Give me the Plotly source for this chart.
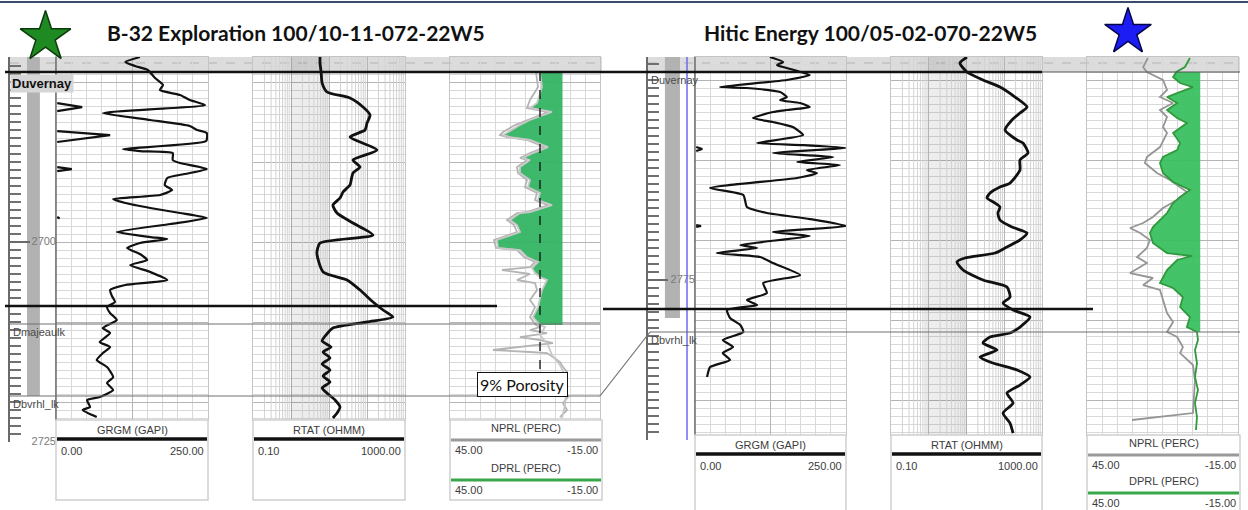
import plotly.graph_objects as go

W, H = 1248, 510

# ======================= LEFT WELL : B-32 Exploration =======================
gr_depth_L = [2676.88, 2677.50, 2678.00, 2678.50, 2679.50, 2680.38, 2681.00, 2681.63, 2682.25, 2682.88,
              2683.88, 2684.75, 2685.50, 2686.00, 2686.38, 2687.38, 2688.38, 2688.63, 2688.88, 2689.75,
              2690.13, 2690.88, 2691.50, 2692.00, 2692.88, 2693.50, 2694.13, 2694.63, 2695.13, 2695.75,
              2696.38, 2697.00, 2697.75, 2698.75, 2699.38, 2699.63, 2700.13, 2700.75, 2701.50, 2702.25,
              2702.88, 2703.75, 2704.75, 2705.38, 2706.00, 2706.75, 2707.50, 2708.13, 2708.88, 2709.75,
              2710.75, 2711.38, 2712.50, 2713.13, 2713.88, 2714.75, 2715.63, 2716.88, 2717.63, 2718.50,
              2719.38, 2719.75, 2720.63, 2721.00, 2721.88]
gr_L = [138, 114, 130, 151, 163, 176, 171, 204, 220, 245,
        77, 155, 220, 232, 248, 247, 110, 138, 192, 192,
        204, 248, 212, 183, 179, 191, 171, 94, 114, 155,
        204, 248, 188, 100, 155, 183, 138, 117, 138, 150,
        122, 155, 183, 114, 89, 92, 97, 84, 89, 100,
        77, 89, 72, 89, 77, 67, 84, 94, 84, 94,
        72, 51, 56, 44, 67]
gr2_depth_L = [2682.63, 2683.13, 2683.63, None, 2686.13, 2686.63, 2687.50, None,
               2690.63, 2690.88, 2691.13, None, 2696.88, 2697.06]
gr2_L = [2, 43, 2, None, 2, 89, 2, None, 2, 26, 2, None, 2, 6]

res_depth_L = [2676.88, 2677.63, 2678.75, 2680.13, 2681.25, 2682.00, 2683.13, 2684.13, 2685.13, 2686.00,
               2686.88, 2688.50, 2689.75, 2690.63, 2691.38, 2692.88, 2693.25, 2693.75, 2694.50, 2695.38,
               2696.38, 2697.63, 2699.13, 2700.13, 2701.38, 2703.75, 2704.75, 2706.00, 2707.50, 2708.50,
               2709.38, 2710.00, 2710.75, 2711.63, 2712.38, 2713.13, 2713.75, 2714.50, 2715.25, 2716.00,
               2716.75, 2717.50, 2718.25, 2719.00, 2719.75, 2720.63, 2721.38, 2722.00]
res_L = [5.8, 5.8, 6.2, 6.6, 8.9, 35.7, 78.5, 120, 100, 88.5,
         35.7, 183, 42.8, 65.5, 42.8, 35.7, 29.8, 23.4, 19.5, 12.7,
         16.2, 42.8, 144, 5.8, 4.8, 7.0, 29.8, 65.5, 144, 264,
         483, 100, 12.7, 8.3, 6.6, 11.3, 7.0, 10.6, 6.6, 10.6,
         7.0, 10.6, 6.6, 9.4, 14.4, 19.5, 16.3, 12.7]

dprl_depth_L = [2678.75, 2680.63, 2682.63, 2683.25, 2683.75, 2684.38, 2684.75, 2685.38, 2686.25, 2686.63,
                2686.88, 2687.25, 2688.13, 2688.88, 2689.50, 2689.75, 2690.63, 2691.38, 2692.25, 2693.13,
                2693.88, 2694.75, 2695.38, 2696.25, 2696.38, 2697.25, 2697.88, 2698.75, 2699.75, 2700.75,
                2701.00, 2701.88, 2702.50, 2703.25, 2703.88, 2704.38, 2704.75, 2706.00, 2708.13, 2709.38,
                2710.38, 2710.63, 2711.63, 2712.88, 2714.13, 2715.38, 2716.63, 2718.50, 2720.38, 2722.00]
dprl_L = [9.0, 8.2, 10.2, 13.0, 4.2, 9.8, 13.0, 17.0, 21.8, 23.8,
          21.0, 13.0, 5.8, 11.8, 15.8, 13.0, 17.0, 17.0, 13.0, 13.8,
          9.0, 9.8, 4.2, 13.0, 17.0, 21.0, 18.2, 17.0, 26.2, 25.8,
          17.0, 14.2, 9.8, 12.2, 11.0, 9.0, 6.2, 8.2, 9.8, 11.8,
          9.0, 7.0, 9.0, 5.8, 4.2, 1.0, -1.0, -1.4, -1.0, 0.2]

nprl_depth_L = [2678.75, 2680.63, 2682.25, 2683.25, 2683.75, 2684.38, 2684.75, 2685.38, 2686.25, 2686.63,
                2686.88, 2687.25, 2688.13, 2688.88, 2689.50, 2689.75, 2690.63, 2691.38, 2692.25, 2693.13,
                2693.88, 2694.75, 2695.38, 2696.25, 2696.38, 2697.25, 2697.88, 2698.75, 2699.75, 2700.75,
                2701.00, 2701.88, 2702.50, 2703.13, 2703.50, 2704.00, 2704.75, 2705.13, 2706.00, 2707.25,
                2708.13, 2709.38, 2710.38, 2710.63, 2711.00, 2711.38, 2711.88, 2712.25, 2712.63, 2713.13,
                2713.50, 2713.75, 2713.88, 2714.38, 2715.00, 2715.63, 2716.25, 2717.63, 2719.38, 2720.13,
                2721.00, 2721.88]
nprl_L = [10.6, 9.8, 13.0, 14.2, 5.8, 11.0, 14.2, 19.0, 23.8, 25.0,
          22.2, 14.2, 7.0, 13.0, 17.0, 14.2, 18.2, 17.8, 14.2, 15.0,
          10.2, 11.0, 5.8, 14.2, 18.2, 22.2, 19.4, 18.2, 27.4, 26.6,
          18.2, 15.4, 11.0, 13.0, 24.2, 13.0, 18.2, 11.0, 10.2, 13.0,
          11.0, 13.0, 10.6, 9.0, 13.0, 6.2, 17.0, 9.0, 3.8, 17.0,
          27.8, 13.0, 6.2, 3.8, 1.0, -0.2, -1.8, -0.2, -2.2, -0.2,
          -1.8, 1.0]

tops_L = {"Duvernay": 2678.75, "Dmajeaulk": 2710.25, "Dbvrhl_lk": 2719.25}
marker_line_L = 2708.0
fill_base_L = 2710.38
depth_labels_L = [2700, 2725]
porosity_cutoff = 9
cutoff_base_L = 2716.4

# ======================= RIGHT WELL : Hitic Energy =======================
gr_depth_R = [2747.13, 2747.75, 2748.13, 2748.50, 2749.38, 2750.00, 2750.88, 2751.00, 2751.50, 2752.13,
              2752.50, 2752.88, 2753.38, 2753.75, 2754.00, 2754.75, 2755.25, 2755.88, 2756.88, 2757.88,
              2758.13, 2758.50, 2759.13, 2759.63, 2760.25, 2760.63, 2761.25, 2761.63, 2762.25, 2763.50,
              2764.38, 2765.88, 2766.63, 2767.38, 2768.25, 2769.00, 2769.50, 2770.63, 2771.00, 2771.63,
              2772.13, 2772.88, 2774.38, 2775.38, 2776.63, 2777.50, 2778.13, 2778.75, 2779.75, 2780.63,
              2781.50, 2782.50, 2783.38, 2784.13, 2785.00, 2785.88, 2787.13]
gr_R = [124, 146, 136, 152, 190, 152, 41, 86, 141, 152,
        141, 174, 190, 152, 129, 96, 129, 162, 179, 103,
        179, 250, 129, 229, 169, 240, 185, 202, 169, 25,
        80, 86, 119, 190, 250, 129, 190, 75, 103, 36,
        108, 129, 174, 113, 119, 86, 103, 53, 58, 75,
        80, 46, 63, 46, 58, 25, 20]
gr2_depth_R = [2758.38, 2758.63, 2758.88, None, 2768.13, 2768.25, 2768.38]
gr2_R = [2, 12, 2, None, 2, 10, 2]

res_depth_R = [2747.13, 2747.88, 2749.00, 2750.00, 2750.88, 2752.13, 2753.38, 2754.13, 2755.00, 2756.25,
               2757.50, 2757.88, 2759.13, 2760.00, 2761.25, 2762.88, 2763.38, 2764.13, 2764.75, 2765.38,
               2765.88, 2766.63, 2767.50, 2768.38, 2769.13, 2770.00, 2771.00, 2771.63, 2772.25, 2772.75,
               2773.75, 2775.00, 2775.88, 2777.13, 2777.88, 2778.75, 2779.63, 2780.88, 2781.63, 2782.13,
               2782.88, 2783.75, 2784.63, 2785.38, 2786.25, 2787.13, 2788.13, 2789.13, 2790.38, 2791.63,
               2792.88, 2794.13]
res_R = [10.3, 6.7, 10.3, 27.4, 77, 193, 401, 261, 160, 105,
         218, 314, 426, 261, 261, 142, 77, 42, 35, 57,
         77, 68, 77, 160, 401, 261, 105, 57, 9.1, 5.6,
         8.1, 27.4, 118, 142, 93, 171, 481, 261, 142, 42,
         27.4, 64, 22.8, 50, 218, 481, 261, 118, 171, 93,
         142, 171]

dprl_depth_R = [2747.25, 2748.38, 2749.00, 2749.63, 2750.38, 2750.88, 2751.63, 2752.13, 2752.88, 2753.75,
                2754.75, 2755.38, 2756.63, 2757.88, 2758.75, 2759.63, 2760.38, 2761.63, 2762.75, 2763.75,
                2764.63, 2765.38, 2766.63, 2767.50, 2768.38, 2769.13, 2770.38, 2771.00, 2771.63, 2772.00,
                2772.50, 2773.75, 2775.38, 2776.00, 2777.13, 2778.38, 2779.63, 2780.88, 2781.50, 2782.50,
                2783.75, 2785.38, 2787.13, 2788.75, 2790.38, 2792.13, 2793.75]
dprl_R = [4.1, 6.1, 9.5, 10.8, 8.0, 2.9, 9.2, 13.2, 9.2, 13.2,
          9.2, 5.3, 10.8, 8.0, 9.2, 14.8, 16.0, 14.8, 10.8, 4.1,
          8.0, 10.8, 13.2, 16.0, 18.8, 20.0, 18.8, 16.0, 13.2, 3.3,
          9.2, 13.2, 16.0, 10.8, 6.9, 8.0, 4.1, 5.3, 1.3, 0.9,
          2.1, 1.3, 2.1, 0.9, 2.1, 1.3, 1.7]

nprl_depth_R = [2747.25, 2748.38, 2749.00, 2750.00, 2751.25, 2752.13, 2752.88, 2753.75, 2754.63, 2755.88,
                2756.63, 2758.38, 2759.63, 2760.38, 2761.63, 2762.50, 2764.00, 2765.00, 2766.00, 2767.13,
                2767.88, 2768.50, 2769.13, 2770.00, 2771.00, 2772.13, 2772.88, 2774.13, 2774.75, 2775.63,
                2776.25, 2777.50, 2779.13, 2780.25, 2781.50, 2782.13, 2783.38, 2784.13, 2785.63, 2787.50,
                2790.00, 2791.63, 2792.50]
nprl_R = [20.8, 22.7, 21.2, 14.8, 13.2, 16.0, 10.8, 16.0, 13.2, 14.8,
          13.2, 16.0, 21.2, 22.0, 17.2, 12.0, 5.3, 9.2, 14.8, 18.8,
          22.7, 27.9, 23.9, 20.0, 21.2, 25.1, 21.2, 27.9, 18.8, 22.7,
          16.0, 14.8, 13.2, 10.8, 13.2, 9.2, 6.9, 8.0, 2.9, 2.1,
          2.5, 2.9, 27.1]

tops_R = {"Duvernay": 2749.0, "Dbvrhl_lk": 2781.5}
marker_line_R = 2778.625
fill_base_R = 2781.5
depth_labels_R = [2775]

titles = ["B-32 Exploration 100/10-11-072-22W5", "Hitic Energy 100/05-02-070-22W5"]
curve_names = [("GRGM (GAPI)", "0.00", "250.00"), ("RTAT (OHMM)", "0.10", "1000.00"),
               ("NPRL (PERC)", "45.00", "-15.00"), ("DPRL (PERC)", "45.00", "-15.00")]

# ======================= layout helpers (pixel geometry) =======================
def px(x):
    return x / W


def py(y):
    return 1 - y / H


wells = [
    dict(top=57, trk_bot=420, dep_bot=442, d_top=2676.875, ppm=8.0,
         gr=(56, 208), res=(253, 405), por=(450, 600), dep=(10, 56),
         ax=["x", "x2", "x3", "x4"], ay=["y", "y2"], foot_top=420, foot_bot=500, dp_off=40),
    dict(top=57, trk_bot=435, dep_bot=440, d_top=2747.125, ppm=8.0,
         gr=(695, 846), res=(891, 1042), por=(1087, 1238), dep=(648, 695),
         ax=["x5", "x6", "x7", "x8"], ay=["y3", "y4"], foot_top=435, foot_bot=520, dp_off=38),
]
for w in wells:
    w["d_bot"] = w["d_top"] + (w["trk_bot"] - w["top"]) / w["ppm"]
    w["dd_bot"] = w["d_top"] + (w["dep_bot"] - w["top"]) / w["ppm"]


def depth_to_paper(w, d):
    return py(w["top"] + (d - w["d_top"]) * w["ppm"])


fig = go.Figure()
layout = {}
shapes = []
annotations = []

GRID_MAJ = "#b5b5b5"
GRID_MIN = "#d9d9d9"
BORDER = "#c4c4c4"

well_data = [
    dict(gr=(gr_depth_L, gr_L), gr2=(gr2_depth_L, gr2_L), res=(res_depth_L, res_L),
         dprl=(dprl_depth_L, dprl_L), nprl=(nprl_depth_L, nprl_L), fill_top=tops_L["Duvernay"],
         fill_base=fill_base_L, fillcolor="rgba(52,180,98,0.95)", dprl_color="#c8c8c8",
         nprl_color="#b4b4b4", labels=depth_labels_L, tick0=2680),
    dict(gr=(gr_depth_R, gr_R), gr2=(gr2_depth_R, gr2_R), res=(res_depth_R, res_R),
         dprl=(dprl_depth_R, dprl_R), nprl=(nprl_depth_R, nprl_R), fill_top=tops_R["Duvernay"],
         fill_base=fill_base_R, fillcolor="rgba(58,192,96,0.95)", dprl_color="#2f9a3c",
         nprl_color="#959595", labels=depth_labels_R, tick0=2750),
]


def xkey(a):
    return "xaxis" if a == "x" else "xaxis" + a[1:]


for i, (w, dat) in enumerate(zip(wells, well_data)):
    xg, xr, xp, xd = w["ax"]
    yt, yd = w["ay"]
    rng_y = [w["d_bot"], w["d_top"]]
    ykey = "yaxis" if yt == "y" else "yaxis" + yt[1:]
    ydkey = "yaxis" + yd[1:]
    layout[ykey] = dict(domain=[py(w["trk_bot"]), py(w["top"])], range=rng_y, anchor=xg,
                        showticklabels=False, ticks="", zeroline=False,
                        showgrid=True, gridcolor=GRID_MAJ, tick0=dat["tick0"], dtick=10,
                        minor=dict(dtick=1, tick0=dat["tick0"], showgrid=True, gridcolor=GRID_MIN),
                        showline=True, linecolor=BORDER, mirror="all")
    layout[ydkey] = dict(domain=[py(w["dep_bot"]), py(w["top"])], range=[w["dd_bot"], w["d_top"]],
                         anchor=xd, showgrid=False, zeroline=False, showticklabels=False,
                         showline=True, linecolor="#6a6a6a", linewidth=1.5,
                         ticks="inside", tickmode="array", tickvals=dat["labels"], ticklen=20,
                         tickwidth=2, tickcolor="#6a6a6a",
                         minor=dict(ticks="inside", dtick=1, tick0=2600, ticklen=11, tickwidth=2,
                                    tickcolor="#707070", showgrid=False))

    layout[xkey(xg)] = dict(domain=[px(w["gr"][0]), px(w["gr"][1])], range=[0, 250], anchor=yt,
                            showticklabels=False, ticks="", zeroline=False, showgrid=True,
                            gridcolor=GRID_MAJ, tick0=0, dtick=125,
                            minor=dict(dtick=25, tick0=0, showgrid=True, gridcolor=GRID_MIN),
                            showline=True, linecolor=BORDER, mirror=True)
    layout[xkey(xr)] = dict(domain=[px(w["res"][0]), px(w["res"][1])], type="log", range=[-1, 3],
                            anchor=yt, showticklabels=False, ticks="", zeroline=False, showgrid=True,
                            gridcolor=GRID_MAJ, dtick=1, showline=True, linecolor=BORDER, mirror=True)
    layout[xkey(xp)] = dict(domain=[px(w["por"][0]), px(w["por"][1])], range=[45, -15], anchor=yt,
                            showticklabels=False, ticks="", zeroline=False, showgrid=True,
                            gridcolor=GRID_MIN, tick0=45, dtick=6,
                            showline=True, linecolor=BORDER, mirror=True)
    layout[xkey(xd)] = dict(domain=[px(w["dep"][0]), px(w["dep"][1])], range=[0, 1], anchor=yd,
                            visible=False)

    top, bot = w["d_top"], w["d_bot"]
    # resistivity shading (decade 1-10) and log minor grid
    fig.add_trace(go.Scatter(x=[1, 10, 10, 1, 1], y=[top, top, bot, bot, top], xaxis=xr, yaxis=yt,
                             mode="lines", line=dict(width=0), fill="toself",
                             fillcolor="rgba(0,0,0,0.07)", hoverinfo="skip"))
    gx, gy = [], []
    for dec in [0.1, 1, 10, 100]:
        for m in range(2, 10):
            gx += [m * dec, m * dec, None]
            gy += [top, bot, None]
    fig.add_trace(go.Scatter(x=gx, y=gy, xaxis=xr, yaxis=yt, mode="lines",
                             line=dict(color="#d2d2d2", width=1), hoverinfo="skip"))

    # GR curves
    fig.add_trace(go.Scatter(x=dat["gr"][1], y=dat["gr"][0], xaxis=xg, yaxis=yt, mode="lines",
                             line=dict(color="#111", width=2.2, shape="spline", smoothing=0.5)))
    fig.add_trace(go.Scatter(x=dat["gr2"][1], y=dat["gr2"][0], xaxis=xg, yaxis=yt, mode="lines",
                             line=dict(color="#111", width=2.2), connectgaps=False))
    # resistivity
    fig.add_trace(go.Scatter(x=dat["res"][1], y=dat["res"][0], xaxis=xr, yaxis=yt, mode="lines",
                             line=dict(color="#111", width=2.8, shape="spline", smoothing=0.6)))
    # porosity fill (DPRL to 0)
    fd = [d for d in dat["dprl"][0] if dat["fill_top"] <= d <= dat["fill_base"]]
    fv = [v for d, v in zip(*dat["dprl"]) if dat["fill_top"] <= d <= dat["fill_base"]]
    fig.add_trace(go.Scatter(x=[0] * len(fd), y=fd, xaxis=xp, yaxis=yt, mode="lines",
                             line=dict(width=0), hoverinfo="skip"))
    fig.add_trace(go.Scatter(x=fv, y=fd, xaxis=xp, yaxis=yt, mode="lines", line=dict(width=0),
                             fill="tonextx", fillcolor=dat["fillcolor"]))
    fig.add_trace(go.Scatter(x=dat["nprl"][1], y=dat["nprl"][0], xaxis=xp, yaxis=yt, mode="lines",
                             line=dict(color=dat["nprl_color"], width=1.8)))
    fig.add_trace(go.Scatter(x=dat["dprl"][1], y=dat["dprl"][0], xaxis=xp, yaxis=yt, mode="lines",
                             line=dict(color=dat["dprl_color"], width=1.8)))
    # depth labels
    fig.add_trace(go.Scatter(x=[1.0] * len(dat["labels"]), y=dat["labels"], xaxis=xd, yaxis=yd,
                             mode="text", text=[str(v) for v in dat["labels"]],
                             textposition="middle left", cliponaxis=False,
                             textfont=dict(family="Liberation Sans", size=11, color="#7a7a7a")))

    # header band
    shapes.append(dict(type="rect", xref="paper", yref="paper", layer="below",
                       x0=px(w["dep"][0]), x1=px(w["por"][1] + 2), y0=py(72), y1=py(57),
                       fillcolor="#dcdcdc", line=dict(width=0)))
    shapes.append(dict(type="line", xref="paper", yref="paper", layer="below",
                       x0=px(w["dep"][0]), x1=px(w["por"][1]), y0=py(63), y1=py(63),
                       line=dict(color="#b3b3b3", width=1, dash="dash")))
    # dark left edge of GR track
    shapes.append(dict(type="line", xref=xg + " domain", yref=yt + " domain", x0=0, x1=0, y0=0, y1=1,
                       line=dict(color="#6e6e6e", width=1.5)))

    # footer boxes
    ft = w["foot_top"]
    for j, (a, b) in enumerate([w["gr"], w["res"], w["por"]]):
        b2 = b + 2 if j == 2 else b
        shapes.append(dict(type="rect", xref="paper", yref="paper", x0=px(a), x1=px(b2),
                           y0=py(w["foot_bot"]), y1=py(ft), line=dict(color="#cfcfcf", width=1.5),
                           fillcolor="white", layer="above"))
        f = dict(family="Liberation Sans", size=11, color="#3c3c3c")
        if j < 2:
            name, lo, hi = curve_names[j]
            annotations.append(dict(x=px((a + b) / 2), y=py(ft + 10), text=name, showarrow=False,
                                    xanchor="center", yanchor="middle", xref="paper", yref="paper", font=f))
            shapes.append(dict(type="line", xref="paper", yref="paper", x0=px(a + 1), x1=px(b - 1),
                               y0=py(ft + 19), y1=py(ft + 19), line=dict(color="#111", width=3.5)))
            annotations.append(dict(x=px(a + 3), y=py(ft + 31), text=lo, showarrow=False, xanchor="left",
                                    yanchor="middle", xref="paper", yref="paper", font=f))
            annotations.append(dict(x=px(b - 2), y=py(ft + 31), text=hi, showarrow=False, xanchor="right",
                                    yanchor="middle", xref="paper", yref="paper", font=f))
        else:
            for k, (off, col) in enumerate([(0, "#9a9a9a"), (w["dp_off"], "#3aa64a")]):
                name, lo, hi = curve_names[2 + k]
                annotations.append(dict(x=px((a + b2) / 2), y=py(ft + 8 + off), text=name, showarrow=False,
                                        xanchor="center", yanchor="middle", xref="paper", yref="paper",
                                        font=f))
                shapes.append(dict(type="line", xref="paper", yref="paper", x0=px(a + 1), x1=px(b2 - 1),
                                   y0=py(ft + 20 + off), y1=py(ft + 20 + off), line=dict(color=col, width=3)))
                annotations.append(dict(x=px(a + 3), y=py(ft + 30 + off), text=lo, showarrow=False,
                                        xanchor="left", yanchor="middle", xref="paper", yref="paper", font=f))
                annotations.append(dict(x=px(b2 - 2), y=py(ft + 30 + off), text=hi, showarrow=False,
                                        xanchor="right", yanchor="middle", xref="paper", yref="paper", font=f))

# depth-track gray bars and blue line
shapes.append(dict(type="rect", xref="x4", yref="y2", x0=0.37, x1=0.65, y0=wells[0]["d_top"],
                   y1=tops_L["Dbvrhl_lk"], fillcolor="#b2b2b2", line=dict(width=0), layer="below"))
shapes.append(dict(type="rect", xref="x8", yref="y4", x0=0.36, x1=0.68, y0=wells[1]["d_top"],
                   y1=2779.75, fillcolor="#b2b2b2", line=dict(width=0), layer="below"))
shapes.append(dict(type="line", xref="x8", yref="y4 domain", x0=0.83, x1=0.83, y0=0, y1=1,
                   line=dict(color="#6b6bf0", width=1.5)))

# 9% porosity cutoff (dashed)
fig.add_trace(go.Scatter(x=[porosity_cutoff, porosity_cutoff], y=[tops_L["Duvernay"], cutoff_base_L],
                         xaxis="x3", yaxis="y", mode="lines",
                         line=dict(color="#111", width=1.3, dash="dash")))

# formation tops / correlation lines
wl, wr = wells
shapes += [
    dict(type="line", xref="paper", yref="y", x0=px(5), x1=px(1042), y0=tops_L["Duvernay"],
         y1=tops_L["Duvernay"], line=dict(color="#111", width=2.5)),
    dict(type="line", xref="paper", yref="y3", x0=px(1042), x1=px(1240), y0=tops_R["Duvernay"],
         y1=tops_R["Duvernay"], line=dict(color="#555", width=1.2)),
    dict(type="line", xref="paper", yref="y", x0=px(5), x1=px(497), y0=marker_line_L,
         y1=marker_line_L, line=dict(color="#111", width=2.5)),
    dict(type="line", xref="paper", yref="y3", x0=px(603), x1=px(1093), y0=marker_line_R,
         y1=marker_line_R, line=dict(color="#111", width=2.5)),
    dict(type="line", xref="paper", yref="y", x0=px(10), x1=px(600), y0=tops_L["Dmajeaulk"],
         y1=tops_L["Dmajeaulk"], line=dict(color="#707070", width=1.2)),
    dict(type="line", xref="paper", yref="y", x0=px(10), x1=px(600), y0=tops_L["Dbvrhl_lk"],
         y1=tops_L["Dbvrhl_lk"], line=dict(color="#707070", width=1.2)),
    dict(type="line", xref="paper", yref="paper", x0=px(600), x1=px(650),
         y0=depth_to_paper(wl, tops_L["Dbvrhl_lk"]), y1=depth_to_paper(wr, tops_R["Dbvrhl_lk"]),
         line=dict(color="#707070", width=1.2)),
    dict(type="line", xref="paper", yref="y3", x0=px(650), x1=px(1240), y0=tops_R["Dbvrhl_lk"],
         y1=tops_R["Dbvrhl_lk"], line=dict(color="#707070", width=1.2)),
    dict(type="line", xref="paper", yref="paper", x0=0, x1=1, y0=py(2), y1=py(2),
         line=dict(color="#3a4b6e", width=2)),
]

lab = dict(family="Liberation Sans", size=11, color="#4a4a4a")
annotations += [
    dict(x=px(10), y=tops_L["Duvernay"], xref="paper", yref="y", text="<b>Duvernay</b>", showarrow=False,
         xanchor="left", yanchor="top", yshift=-2, bgcolor="#d6d6d6", borderpad=1,
         font=dict(family="Liberation Sans", size=13, color="#111")),
    dict(x=px(11), y=tops_L["Dmajeaulk"], xref="paper", yref="y", text="Dmajeaulk", showarrow=False,
         xanchor="left", yanchor="top", yshift=0, font=lab),
    dict(x=px(11), y=tops_L["Dbvrhl_lk"], xref="paper", yref="y", text="Dbvrhl_lk", showarrow=False,
         xanchor="left", yanchor="top", yshift=0, font=lab),
    dict(x=px(649), y=tops_R["Duvernay"], xref="paper", yref="y3", text="Duvernay", showarrow=False,
         xanchor="left", yanchor="top", yshift=0, font=lab),
    dict(x=px(649), y=tops_R["Dbvrhl_lk"], xref="paper", yref="y3", text="Dbvrhl_lk", showarrow=False,
         xanchor="left", yanchor="top", yshift=0, font=lab),
    dict(x=px(522), y=py(384), xref="paper", yref="paper", text="9% Porosity", showarrow=False,
         xanchor="center", yanchor="middle", bgcolor="white", bordercolor="#111", borderwidth=1,
         borderpad=2, font=dict(family="Lato", size=16, color="#111")),
    dict(x=px(296), y=py(32), xref="paper", yref="paper", text="<b>%s</b>" % titles[0], showarrow=False,
         xanchor="center", yanchor="middle", font=dict(family="Lato", size=21, color="#111")),
    dict(x=px(870), y=py(33), xref="paper", yref="paper", text="<b>%s</b>" % titles[1], showarrow=False,
         xanchor="center", yanchor="middle", font=dict(family="Lato", size=21, color="#111")),
]

# stars on a full-page overlay axis
layout["xaxis9"] = dict(domain=[0, 1], range=[0, W], visible=False, anchor="y5", fixedrange=True)
layout["yaxis5"] = dict(domain=[0, 1], range=[H, 0], visible=False, anchor="x9", fixedrange=True)
fig.add_trace(go.Scatter(x=[45.5], y=[37], xaxis="x9", yaxis="y5", mode="markers",
                         marker=dict(symbol="star", size=38, color="#1f8a22",
                                     line=dict(color="#0b3a0b", width=1.5))))
fig.add_trace(go.Scatter(x=[1128], y=[32], xaxis="x9", yaxis="y5", mode="markers",
                         marker=dict(symbol="star", size=35, color="#1c1cf5",
                                     line=dict(color="#05054a", width=1.5))))

fig.update_layout(width=W, height=H, margin=dict(l=0, r=0, t=0, b=0), showlegend=False,
                  paper_bgcolor="white", plot_bgcolor="rgba(0,0,0,0)",
                  shapes=shapes, annotations=annotations, **layout)
fig.write_html("out.html", post_script="document.body.style.margin='0px';",
               config={"displayModeBar": False})
